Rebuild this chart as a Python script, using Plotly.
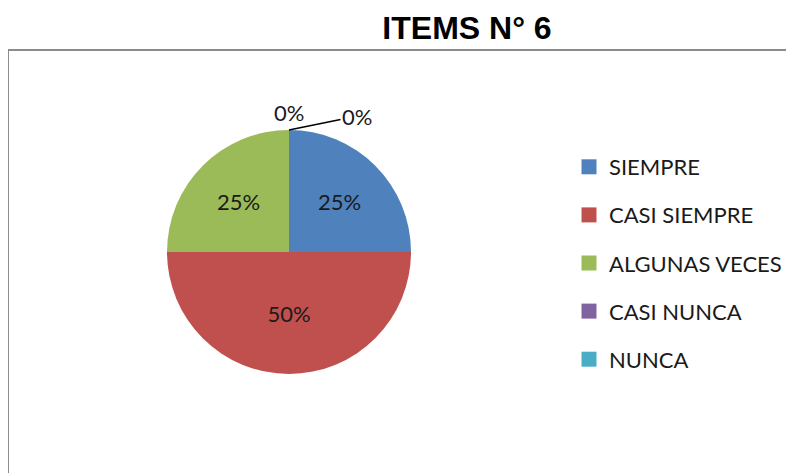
import plotly.graph_objects as go

categories = ["SIEMPRE", "CASI SIEMPRE", "ALGUNAS VECES", "CASI NUNCA", "NUNCA"]
values = [25, 50, 25, 0, 0]
colors = ["#4F81BD", "#C0504D", "#9BBB59", "#8064A2", "#4BACC6"]
title_text = "ITEMS N° 6"

W, H = 794, 473
cx, cy, r = 281, 244, 122
FONT = "Lato"
TXT = "#1a1a1a"

fig = go.Figure()
fig.add_trace(go.Pie(
    labels=categories, values=values, sort=False, direction="clockwise", rotation=0,
    marker=dict(colors=colors, line=dict(width=0)),
    texttemplate=["%{percent:.0%}" if v > 0 else "" for v in values],
    textposition="inside",
    insidetextorientation="horizontal",
    textfont=dict(family=FONT, size=22, color=TXT),
    showlegend=False,
    domain=dict(x=[(cx - r) / W, (cx + r) / W], y=[1 - (cy + r) / H, 1 - (cy - r) / H]),
    hoverinfo="label+percent",
))

for cat, col in zip(categories, colors):
    fig.add_trace(go.Scatter(
        x=[None], y=[None], mode="markers", name=cat, legendgroup=cat,
        marker=dict(symbol="square", size=15, color=col),
    ))

zero_labels = [f"{v}%" for c, v in zip(categories, values) if v == 0]

fig.update_layout(
    width=W, height=H, margin=dict(l=0, r=0, t=0, b=0),
    paper_bgcolor="white", plot_bgcolor="white",
    xaxis=dict(visible=False), yaxis=dict(visible=False),
    title=dict(text="<b>" + title_text + "</b>", x=459 / W, xanchor="center",
               y=1 - 20 / H, yanchor="middle",
               font=dict(family="Liberation Sans", size=32, color="black")),
    legend=dict(x=561 / W, y=1 - 138 / H, xanchor="left", yanchor="top",
                font=dict(family=FONT, size=22, color=TXT),
                tracegroupgap=16.5, itemclick=False, bgcolor="rgba(0,0,0,0)"),
    shapes=[dict(type="rect", xref="paper", yref="paper",
                 x0=0, x1=1.05, y0=-0.05, y1=1 - 42 / H,
                 line=dict(color="#8c8c8c", width=2), fillcolor="rgba(0,0,0,0)")],
    annotations=[
        dict(text=zero_labels[0], xref="paper", yref="paper", x=cx / W, y=1 - 105 / H,
             xanchor="center", yanchor="middle",
             showarrow=False, font=dict(family=FONT, size=22, color=TXT)),
        dict(text=zero_labels[1], xref="paper", yref="paper", x=cx / W, y=1 - (cy - r) / H,
             showarrow=True, ax=68, ay=-14, arrowhead=0,
             arrowwidth=1.5, arrowcolor="black", standoff=0, startstandoff=0,
             font=dict(family=FONT, size=22, color=TXT)),
    ],
)

fig.write_html("out.html")
